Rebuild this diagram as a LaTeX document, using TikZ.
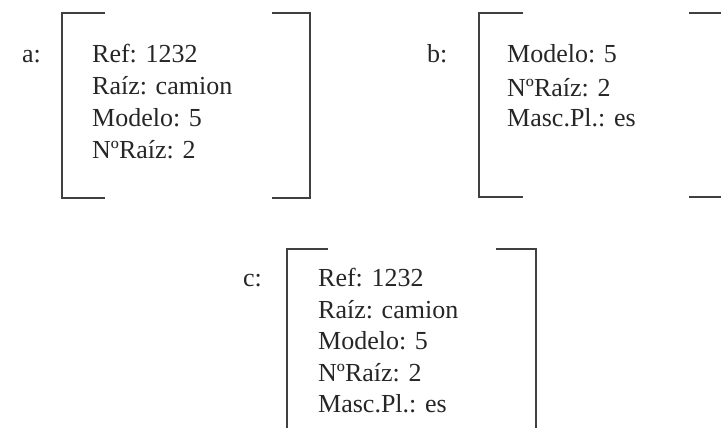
\documentclass[tikz,border=0pt]{standalone}
\usepackage{fontspec}
\setmainfont{Liberation Serif}
\begin{document}
\begin{tikzpicture}[x=1pt,y=-1pt,
  txt/.style={anchor=base west, inner sep=0pt, font=\fontsize{26}{31}\selectfont, text=black!85},
  brk/.style={draw=black!75, line width=1.4pt}]
\useasboundingbox (0,0) rectangle (721,428);
\clip (0,0) rectangle (721,428);
% box a
\node[txt] (la) at (22,63) {a:};
\node[txt] (a1) at (92,63) {Ref: 1232};
\node[txt] (a2) at (92,95) {Raíz: camion};
\node[txt] (a3) at (92,127) {Modelo: 5};
\node[txt] (a4) at (92,158) {NºRaíz: 2};
\draw[brk] (105,13) -- (62,13) -- (62,198) -- (105,198);
\draw[brk] (272,13) -- (310,13) -- (310,198) -- (272,198);
% box b
\node[txt] (lb) at (427,63) {b:};
\node[txt] (b1) at (507,63) {Modelo: 5};
\node[txt] (b2) at (507,96) {NºRaíz: 2};
\node[txt] (b3) at (507,127) {Masc.Pl.: es};
\draw[brk] (523,13) -- (479,13) -- (479,197) -- (523,197);
\draw[brk] (689,13) -- (730,13);
\draw[brk] (689,197) -- (730,197);
% box c
\node[txt] (lc) at (243,286) {c:};
\node[txt] (c1) at (318,286) {Ref: 1232};
\node[txt] (c2) at (318,318) {Raíz: camion};
\node[txt] (c3) at (318,349) {Modelo: 5};
\node[txt] (c4) at (318,381) {NºRaíz: 2};
\node[txt] (c5) at (318,412) {Masc.Pl.: es};
\draw[brk] (328,249) -- (287,249) -- (287,440);
\draw[brk] (496,249) -- (536,249) -- (536,440);
\end{tikzpicture}
\end{document}
